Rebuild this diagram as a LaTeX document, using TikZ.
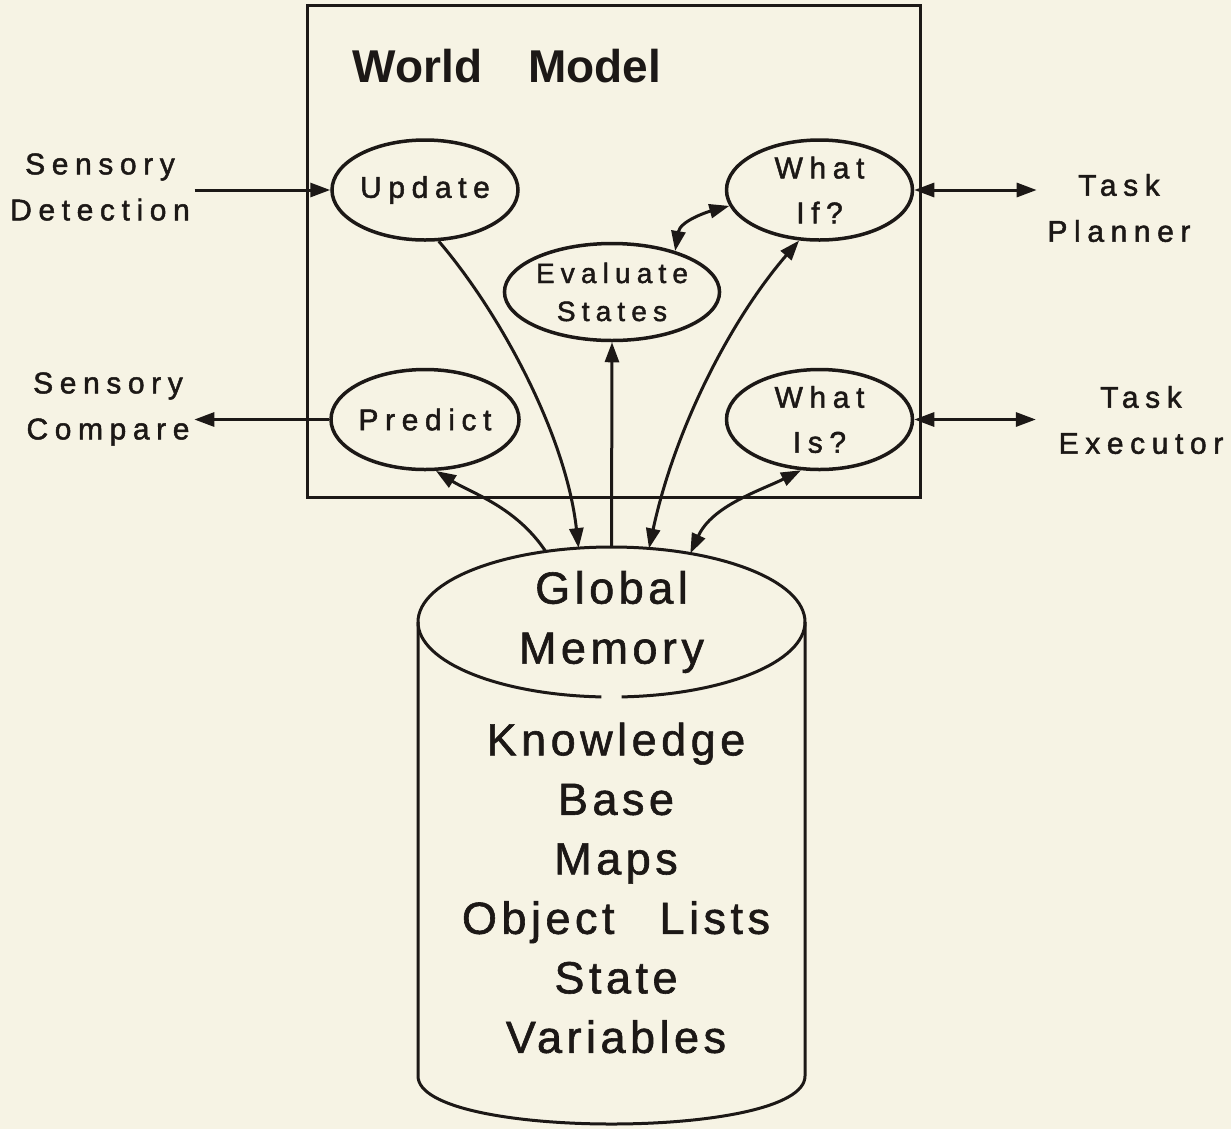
\documentclass[tikz,border=0pt]{standalone}
\usepackage{fontspec}
\setmainfont{Liberation Sans}
\newfontfamily\labelfont[LetterSpace=22,FakeBold=1.6]{Liberation Sans}
\newfontfamily\memfont[LetterSpace=10,FakeBold=1.3]{Liberation Sans}
\usetikzlibrary{arrows.meta,shapes.geometric,positioning}
\definecolor{paper}{RGB}{246,243,228}
\definecolor{ink}{RGB}{28,24,22}

\begin{document}
\begin{tikzpicture}[
    x = 1pt, y = -1pt, % pixel units, y grows downwards
    > = {Triangle[length=20pt,width=14pt]}, % arrow head style
    line width = 3pt,
    color = ink
    ]

    \tikzset{
    proc/.style = {ellipse, draw, line width=3.5pt, inner sep=0pt, minimum width=186pt,
        minimum height=100pt, align=center,
        font=\labelfont\fontsize{30}{45}\selectfont},
    side/.style = {align=center, font=\labelfont\fontsize{30}{46}\selectfont},
    memtext/.style = {align=center, font=\memfont\fontsize{45}{60}\selectfont}
    }

    \fill[paper] (0,0) rectangle (1231,1129);

    % world model box
    \node[draw, minimum width=613pt, minimum height=492pt, inner sep=0pt] (wm) at (613.5,251) {};
    \node[font=\bfseries\fontsize{46}{50}\selectfont] (title) at (507,66) {World\quad Model};

    \node[proc] (upd) at (425,190) {Update};
    \node[proc] (whatif) [right=205pt of upd] {What\\If?};
    \node[proc] (pred) [below=126pt of upd] {Predict};
    \node[proc] (whatis) [below=126pt of whatif] {What\\Is?};
    \node[proc, minimum width=183pt, minimum height=97pt,
        font=\labelfont\fontsize{28}{38}\selectfont] (eval) at (612,292) {Evaluate\\States};

    % outside
    \node[side] (sdet) at (100,187) {Sensory\\Detection};
    \node[side] (scmp) at (108,409) {Sensory\\Compare};
    \node[side] (tplan) at (1119,208) {Task\\Planner};
    \node[side] (texec) at (1141,420) {Task\\Executor};

    % global memory cylinder
    \node[memtext, ellipse, minimum width=387pt, minimum height=150pt,
        inner sep=0pt, outer sep=0pt] (mem) at (611.5,622) {Global\\Memory};
    \node[memtext, font=\memfont\fontsize{45}{59.5}\selectfont] (memlist) at (616,888)
        {Knowledge\\Base\\Maps\\Object\quad Lists\\State\\Variables};
    \coordinate (botL) at (418,1076);
    \coordinate (botR) at (805,1076);
    \draw (mem.east) arc[start angle=0, end angle=180, x radius=193.5pt, y radius=75pt];
    \draw (mem.west) arc[start angle=180, end angle=267, x radius=193.5pt, y radius=75pt];
    \draw (mem.east) arc[start angle=0, end angle=-87, x radius=193.5pt, y radius=75pt];
    \draw[line join=round] (mem.west) -- (botL) .. controls +(0,64) and +(0,64) .. (botR) -- (mem.east);

    \draw[->] (sdet.east |- upd.west) -- (upd.west);
    \draw[->] (pred.west) -- (pred.west -| scmp.east);
    \draw[<->, shorten >=6pt] (whatif.east) -- (whatif.east -| tplan.west);
    \draw[<->, shorten >=18pt] (whatis.east) -- (whatis.east -| texec.west);

    \draw[->] (upd.285) .. controls +(60,70) and +(-13,-115) .. (mem.114);
    \draw[->] (mem.north) -- (eval.south);
    \draw[<->] (mem.63) .. controls +(27,-125) and +(-65,75) .. (whatif.248);
    \draw[->] (mem.133) .. controls +(-30,-45) and +(35,22) .. (pred.282);
    \draw[<->] (mem.41) .. controls +(22,-48) and +(-40,20) .. (whatis.250);
    \draw[<->] (eval.33) .. controls +(5,-30) and +(-22,6) .. (whatif.190);
\end{tikzpicture}
\end{document}
